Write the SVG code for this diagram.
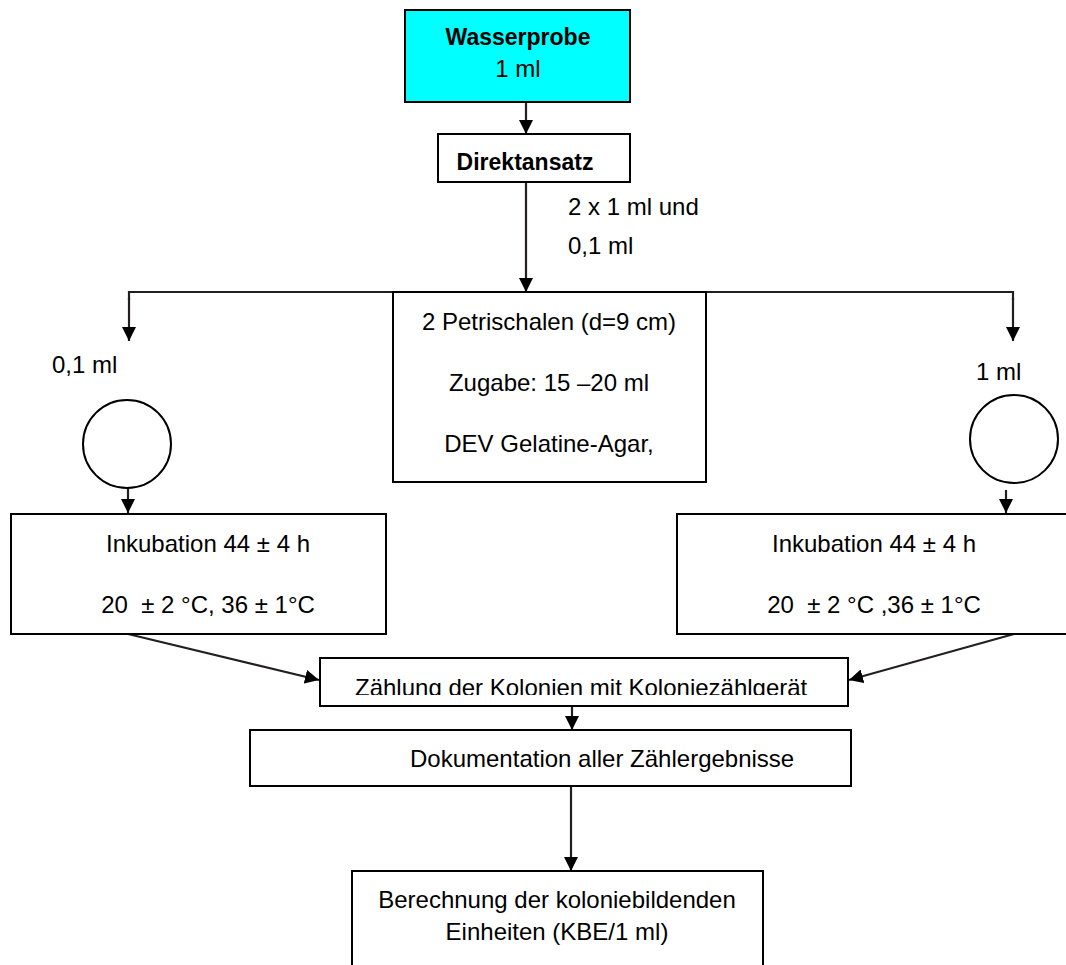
<svg xmlns="http://www.w3.org/2000/svg" width="1066" height="965" viewBox="0 0 1066 965">
  <style>
    .box { fill: #ffffff; stroke: #000000; stroke-width: 2; }
    .t { font-family: "Liberation Sans", Arial, sans-serif; font-size: 24px; fill: #000000; white-space: pre; }
    .b { font-weight: bold; font-size: 23px; }
    .c { text-anchor: middle; }
    .conn { stroke: #231f20; stroke-width: 2.2; fill: none; }
  </style>
  <defs>
    <marker id="ah" viewBox="0 0 10 10" refX="10" refY="5" markerWidth="14" markerHeight="14" markerUnits="userSpaceOnUse" orient="auto">
      <path d="M0,0 L10,5 L0,10 Z" fill="#000000"/>
    </marker>
    <clipPath id="clipZ">
      <rect x="320" y="658" width="528" height="37"/>
    </clipPath>
  </defs>

  <g id="connectors">
    <line class="conn" x1="526" y1="102" x2="526" y2="134" marker-end="url(#ah)"/>
    <line class="conn" x1="526" y1="182" x2="526" y2="292" marker-end="url(#ah)"/>
    <polyline class="conn" points="129,300 129,292 1013,292 1013,300" />
    <line class="conn" x1="129" y1="298" x2="129" y2="341" marker-end="url(#ah)"/>
    <line class="conn" x1="1013" y1="298" x2="1013" y2="341" marker-end="url(#ah)"/>
    <line class="conn" x1="128" y1="488" x2="128" y2="513" marker-end="url(#ah)"/>
    <line class="conn" x1="1006" y1="490" x2="1006" y2="513" marker-end="url(#ah)"/>
    <line class="conn" x1="128" y1="634" x2="319" y2="680" marker-end="url(#ah)"/>
    <line class="conn" x1="1014" y1="634" x2="849" y2="680" marker-end="url(#ah)"/>
    <line class="conn" x1="572" y1="706" x2="572" y2="730" marker-end="url(#ah)"/>
    <line class="conn" x1="571" y1="786" x2="571" y2="871" marker-end="url(#ah)"/>
  </g>

  <g id="wasserprobe">
    <rect x="405" y="10" width="225" height="92" fill="#00ffff" stroke="#000000" stroke-width="2"/>
    <text class="t b c" x="518" y="45">Wasserprobe</text>
    <text class="t c" x="518" y="77">1 ml</text>
  </g>

  <g id="direktansatz">
    <rect class="box" x="438" y="134" width="192" height="48"/>
    <text class="t b c" x="525" y="170">Direktansatz</text>
  </g>

  <g id="label-2x1ml">
    <text class="t" x="568" y="215">2 x 1 ml und</text>
    <text class="t" x="568" y="254">0,1 ml</text>
  </g>

  <g id="petrischalen">
    <rect class="box" x="393" y="292" width="313" height="190"/>
    <text class="t c" x="549" y="330">2 Petrischalen (d=9 cm)</text>
    <text class="t c" x="549" y="391">Zugabe: 15 –20 ml</text>
    <text class="t c" x="549" y="452">DEV Gelatine-Agar,</text>
  </g>

  <g id="label-left">
    <text class="t" x="52" y="373">0,1 ml</text>
  </g>
  <g id="label-right">
    <text class="t" x="976" y="380">1 ml</text>
  </g>

  <g id="circle-left">
    <circle cx="127" cy="444" r="44" fill="#ffffff" stroke="#000000" stroke-width="2"/>
  </g>
  <g id="circle-right">
    <circle cx="1014" cy="439" r="44" fill="#ffffff" stroke="#000000" stroke-width="2"/>
  </g>

  <g id="inkubation-left">
    <rect class="box" x="11" y="514" width="375" height="120"/>
    <text class="t c" x="208" y="552">Inkubation 44 ± 4 h</text>
    <text class="t c" x="208" y="613">20  ± 2 °C, 36 ± 1°C</text>
  </g>

  <g id="inkubation-right">
    <rect class="box" x="677" y="514" width="400" height="120"/>
    <text class="t c" x="874" y="552">Inkubation 44 ± 4 h</text>
    <text class="t c" x="874" y="613">20  ± 2 °C ,36 ± 1°C</text>
  </g>

  <g id="zaehlung">
    <rect class="box" x="320" y="658" width="528" height="48"/>
    <text class="t" x="355" y="696" clip-path="url(#clipZ)">Zählung der Kolonien mit Koloniezählgerät</text>
  </g>

  <g id="dokumentation">
    <rect class="box" x="250" y="730" width="601" height="56"/>
    <text class="t" x="410" y="767">Dokumentation aller Zählergebnisse</text>
  </g>

  <g id="berechnung">
    <rect class="box" x="352" y="871" width="411" height="110"/>
    <text class="t c" x="557" y="908">Berechnung der koloniebildenden</text>
    <text class="t c" x="557" y="940">Einheiten (KBE/1 ml)</text>
  </g>
</svg>
